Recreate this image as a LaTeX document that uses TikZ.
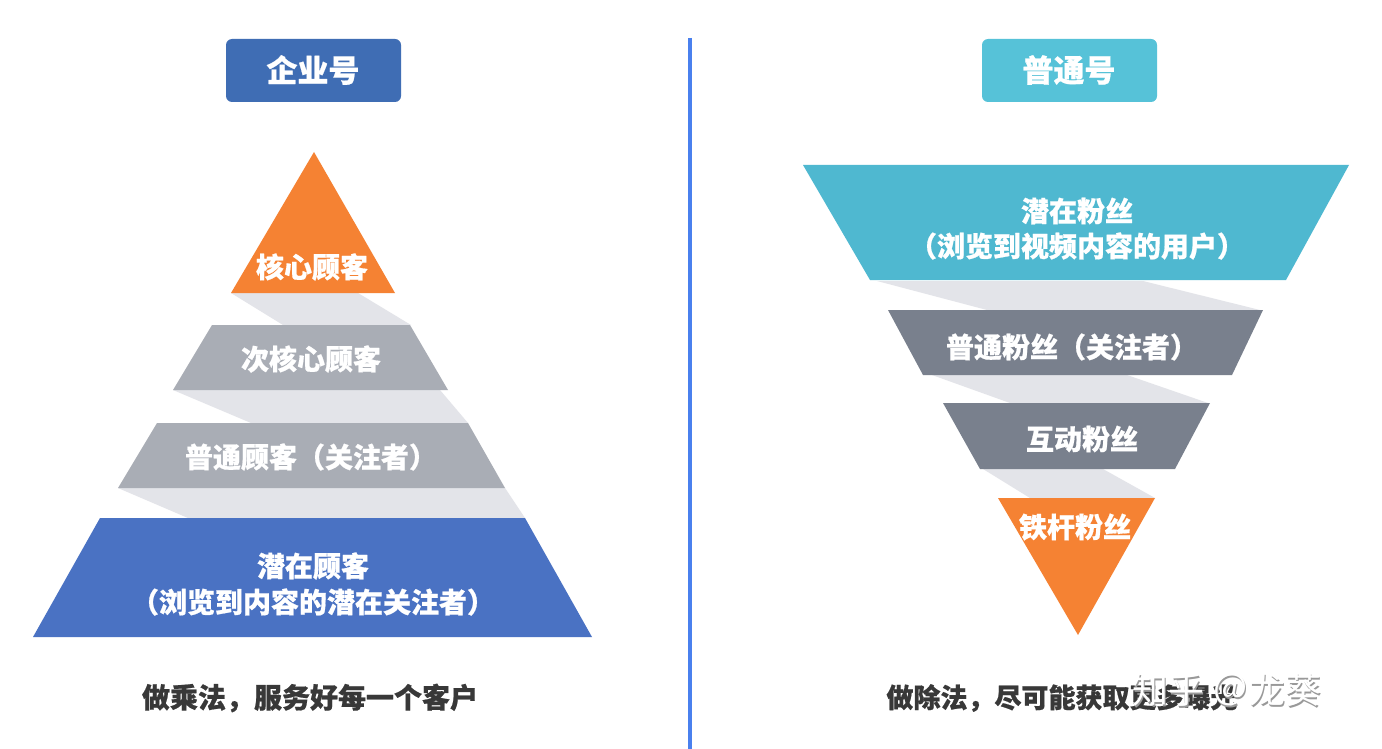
\documentclass[tikz,border=0pt]{standalone}
\usepackage{fontspec}
\newfontfamily\cjk{Noto Sans CJK SC}[BoldFeatures={FakeBold=0.6}]
\newfontfamily\cjkw{Noto Sans CJK SC}
\definecolor{orng}{HTML}{F58233}
\definecolor{lgray}{HTML}{A9ADB5}
\definecolor{dgray}{HTML}{79808D}
\definecolor{bblue}{HTML}{4A72C3}
\definecolor{hblue}{HTML}{3F6DB4}
\definecolor{cyanL}{HTML}{4FB8D0}
\definecolor{hcyan}{HTML}{56C2D8}
\definecolor{divblue}{HTML}{4A80EE}
\definecolor{band}{HTML}{E3E4E9}
\definecolor{txtdark}{HTML}{383838}
\begin{document}
\begin{tikzpicture}[x=1pt,y=-1pt,
  lbl/.style={font=\cjk\bfseries\fontsize{28}{34}\selectfont, text=white, inner sep=0pt, anchor=center},
  hdr/.style={font=\cjk\bfseries\fontsize{31}{36}\selectfont, text=white, inner sep=0pt, anchor=center},
  foot/.style={font=\cjk\bfseries\fontsize{28}{34}\selectfont, text=txtdark, inner sep=0pt, anchor=center},
  wmark/.style={font=\cjkw\fontsize{36}{40}\selectfont, inner sep=0pt, anchor=west},
  bandfill/.style={fill=band},
  hbox/.style={rounded corners=6pt}]
\useasboundingbox (0,0) rectangle (1382,749);
\fill[white] (0,0) rectangle (1382,749);

% divider
\draw[divblue, line width=4pt] (690,38) -- (690,749);

% headers
\fill[hblue, hbox] (226,39) rectangle (401,102);
\node[hdr] (h1) at (313,70) {企业号};
\fill[hcyan, hbox] (982,39) rectangle (1157,102);
\node[hdr] (h2) at (1069,70) {普通号};

% ---------- left pyramid ----------
\fill[bandfill] (231,293) -- (358,293) -- (411,325) -- (283,325) -- cycle;
\fill[bandfill] (173,390) -- (440,390) -- (468,423) -- (251,423) -- cycle;
\fill[bandfill] (118,488) -- (505,488) -- (525,518) -- (188,518) -- cycle;
\fill[orng] (314,152) -- (395,293) -- (231,293) -- cycle;
\fill[lgray] (212,325) -- (410,325) -- (448,390) -- (173,390) -- cycle;
\fill[lgray] (157,423) -- (468,423) -- (505,488) -- (118,488) -- cycle;
\fill[bblue] (100,518) -- (525,518) -- (592,637) -- (33,637) -- cycle;

\node[lbl] (l1) at (312,267) {核心顾客};
\node[lbl] (l2) at (311,359) {次核心顾客};
\node[lbl] (l3) at (311,457) {普通顾客（关注者）};
\node[lbl] (l4a) at (313,566) {潜在顾客};
\node[lbl] (l4b) at (313,602) {（浏览到内容的潜在关注者）};

\node[foot] (f1) at (310,698) {做乘法，服务好每一个客户};

% ---------- right funnel ----------
\fill[bandfill] (877,281) -- (1143,281) -- (1260,310) -- (987,310) -- cycle;
\fill[bandfill] (932,375) -- (1127,375) -- (1208,403) -- (1010,403) -- cycle;
\fill[bandfill] (983,469) -- (1103,469) -- (1155,498) -- (1030,498) -- cycle;

\fill[cyanL] (803,165) -- (1349,165) -- (1286,280) -- (870,280) -- cycle;
\fill[dgray] (888,310) -- (1263,310) -- (1232,375) -- (923,375) -- cycle;
\fill[dgray] (943,403) -- (1210,403) -- (1175,469) -- (980,469) -- cycle;
\fill[orng] (998,498) -- (1155,498) -- (1078,635) -- cycle;

\node[lbl] (r1a) at (1077,211) {潜在粉丝};
\node[lbl] (r1b) at (1077,246) {（浏览到视频内容的用户）};
\node[lbl] (r2) at (1072,347) {普通粉丝（关注者）};
\node[lbl] (r3) at (1082,439) {互动粉丝};
\node[lbl] (r4) at (1075,527) {铁杆粉丝};

\node[foot, font=\cjk\bfseries\fontsize{27}{34}\selectfont] (f2) at (1062,698) {做除法，尽可能获取更多曝光};

% watermark
\node[wmark, text=black!40] (wm0) at (1133.5,691.5) {知乎\hspace{8pt}＠\hspace{1pt}龙葵};
\node[wmark, text=white] (wm) at (1132,690) {知乎\hspace{8pt}＠\hspace{1pt}龙葵};
\end{tikzpicture}
\end{document}
